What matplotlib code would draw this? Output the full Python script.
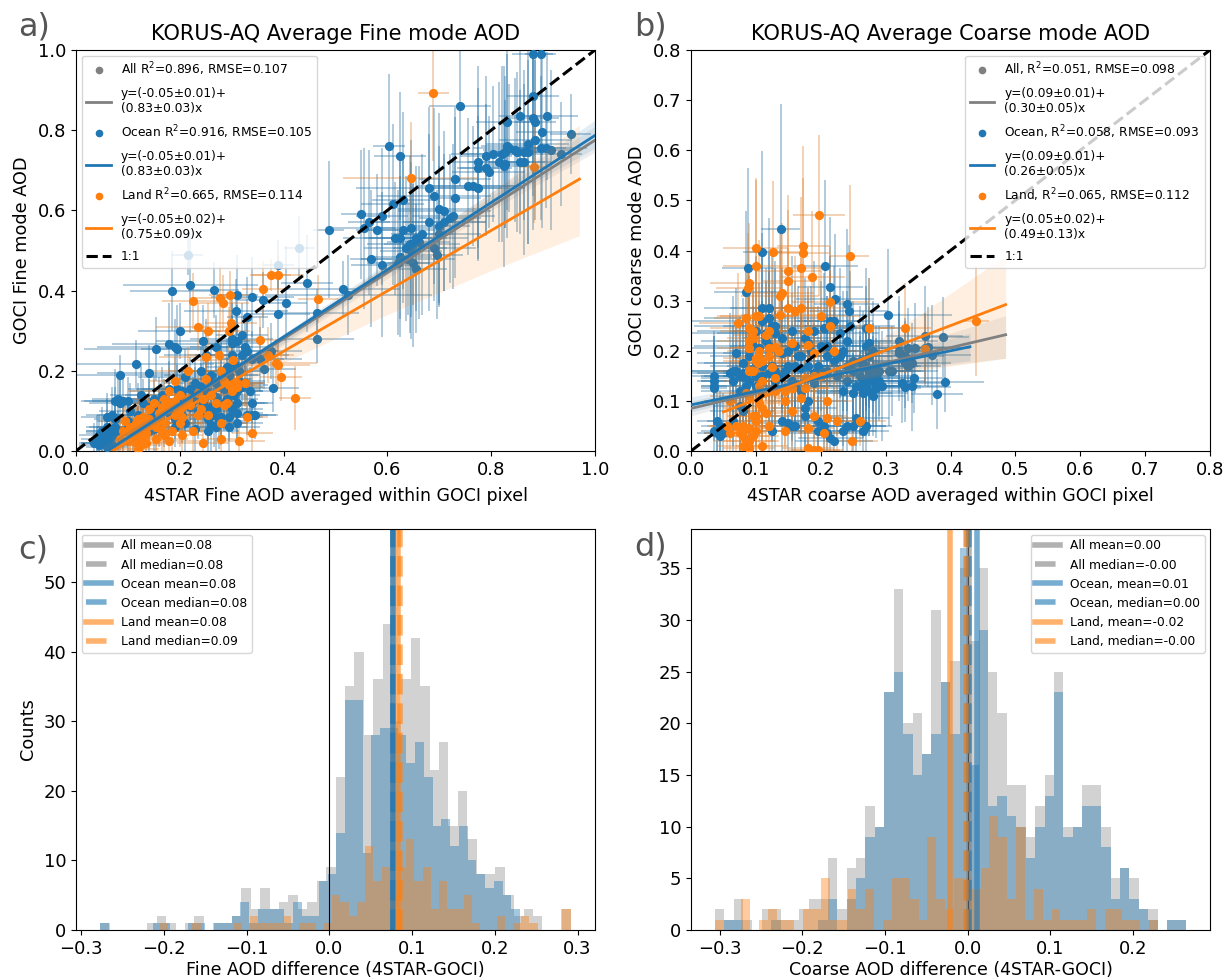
import numpy as np
import matplotlib
matplotlib.use("Agg")
import matplotlib.pyplot as plt

# rows are x, y, x error, y error
fine_ocean = [
(.88,.99,.04,.3),(.895,.99,.03,.3),(.74,.86,.06,.2),(.88,.885,.05,.25),(.83,.82,.06,.22),(.855,.835,.04,.24),
(.88,.83,.05,.28),(.885,.82,.04,.2),(.908,.835,.06,.16),(.953,.79,.04,.1),(.897,.795,.05,.24),(.885,.775,.07,.2),
(.87,.765,.08,.25),(.845,.75,.06,.18),(.83,.76,.05,.23),(.835,.755,.07,.16),(.82,.74,.08,.22),(.827,.745,.04,.19),
(.79,.735,.05,.2),(.803,.74,.08,.17),(.775,.72,.06,.24),(.79,.705,.05,.16),(.775,.705,.04,.2),(.795,.695,.07,.14),
(.815,.72,.06,.2),(.827,.715,.04,.16),(.825,.71,.05,.25),(.855,.72,.06,.18),(.863,.72,.04,.23),(.85,.745,.05,.2),
(.863,.745,.06,.17),(.87,.745,.04,.23),(.895,.755,.05,.18),(.905,.755,.08,.15),(.915,.75,.04,.2),(.935,.74,.04,.13),
(.603,.76,.03,.18),(.625,.735,.05,.16),(.73,.678,.07,.18),(.73,.632,.05,.2),(.755,.66,.1,.17),(.765,.66,.08,.15),
(.775,.655,.09,.18),(.68,.657,.14,.2),(.69,.636,.11,.22),(.7,.603,.08,.24),(.71,.598,.09,.2),(.72,.58,.06,.16),
(.727,.585,.08,.18),(.68,.57,.11,.22),(.7,.56,.06,.2),(.71,.57,.08,.17),(.666,.54,.06,.2),(.655,.53,.1,.18),
(.643,.515,.05,.22),(.7,.54,.08,.17),(.645,.555,.06,.22),(.63,.55,.08,.18),(.615,.53,.1,.14),(.625,.53,.06,.2),
(.635,.505,.08,.18),(.645,.5,.06,.22),(.65,.515,.09,.15),(.66,.52,.06,.19),(.69,.505,.08,.13),(.695,.49,.05,.16),
(.625,.485,.06,.2),(.64,.48,.09,.14),(.62,.47,.06,.18),(.65,.47,.05,.21),(.655,.455,.06,.16),(.59,.465,.06,.18),
(.568,.48,.04,.17),(.55,.59,.04,.16),(.555,.555,.06,.2),(.565,.57,.04,.18),(.59,.585,.05,.17),(.61,.615,.06,.2),
(.63,.625,.06,.22),(.487,.552,.03,.17),(.58,.552,.04,.14),(.215,.49,.03,.05),(.43,.505,.03,.08),(.39,.465,.03,.06),
(.445,.418,.05,.12),(.515,.404,.11,.07),(.525,.39,.16,.1),(.405,.37,.04,.14),(.39,.342,.06,.1),(.465,.345,.08,.06),
(.465,.28,.07,.06),(.34,.384,.08,.1),(.36,.376,.05,.07),(.31,.39,.04,.1),(.185,.4,.08,.1),(.22,.415,.13,.12),
(.265,.402,.05,.07),(.308,.348,.1,.08),(.33,.335,.04,.1),(.2,.3,.08,.07),(.155,.255,.14,.08),(.18,.268,.11,.1),
(.19,.26,.15,.07),(.195,.255,.07,.11),(.245,.275,.09,.09),(.115,.217,.15,.06),(.085,.19,.13,.05),(.14,.195,.1,.07),
(.3,.28,.08,.11),(.31,.275,.04,.09),(.32,.29,.05,.08),(.3,.27,.06,.1),(.33,.25,.06,.08),(.325,.26,.05,.07),
(.375,.25,.06,.07),(.32,.24,.09,.06),(.3,.24,.05,.1),(.34,.23,.06,.07),(.355,.23,.08,.08),(.363,.205,.06,.05),
(.38,.158,.05,.06),(.34,.12,.04,.05),(.345,.09,.04,.06),(.34,.09,.05,.04),(.25,.24,.08,.09),(.27,.26,.05,.08),
(.28,.2,.08,.08),(.29,.21,.04,.07),(.295,.19,.06,.06),(.305,.22,.06,.07),(.315,.2,.05,.08),(.28,.18,.06,.09),
(.26,.19,.09,.07),(.24,.2,.06,.06),(.255,.18,.08,.08),(.27,.17,.05,.05),(.29,.165,.08,.07),(.3,.17,.06,.06),
(.31,.15,.05,.08),(.325,.17,.04,.05),(.335,.15,.04,.06),(.22,.155,.09,.08),(.205,.15,.1,.06),(.23,.14,.06,.07),
(.25,.15,.05,.08),(.27,.135,.06,.06),(.285,.12,.08,.07),(.3,.105,.06,.06),(.31,.095,.05,.08),(.295,.085,.06,.06),
(.28,.085,.08,.07),(.265,.09,.05,.08),(.255,.08,.06,.06),(.26,.065,.04,.07),(.27,.06,.06,.06),(.25,.1,.09,.06),
(.235,.1,.06,.07),(.22,.11,.05,.06),(.205,.09,.08,.07),(.19,.11,.06,.06),(.18,.095,.05,.07),(.17,.12,.08,.06),
(.16,.105,.06,.08),(.15,.09,.09,.06),(.14,.11,.06,.07),(.13,.12,.06,.06),(.12,.09,.08,.08),(.105,.1,.06,.07),
(.09,.125,.08,.06),(.075,.125,.06,.08),(.08,.13,.05,.06),(.07,.09,.05,.07),(.075,.08,.04,.08),(.06,.085,.05,.06),
(.06,.06,.04,.07),(.05,.05,.03,.06),(.045,.04,.04,.05),(.04,.03,.03,.06),(.035,.02,.03,.05),(.05,.02,.04,.04),
(.065,.03,.04,.06),(.07,.05,.05,.05),(.08,.04,.04,.06),(.09,.05,.05,.07),(.1,.06,.06,.06),(.11,.04,.05,.06),
(.13,.06,.06,.05),(.15,.055,.06,.06),(.17,.07,.06,.06),(.19,.06,.08,.05),(.21,.07,.06,.07),(.23,.055,.08,.06),
(.255,.05,.06,.05),(.275,.075,.05,.07),(.2,.13,.09,.06),(.18,.155,.08,.07),(.21,.185,.09,.07),(.23,.17,.06,.06),
(.3,.15,.06,.06),(.305,.14,.05,.05),(.29,.13,.06,.06),(.32,.16,.04,.06),(.315,.175,.05,.07),(.285,.155,.07,.06),
(.27,.115,.06,.05),(.26,.11,.05,.07),(.245,.12,.07,.05),(.225,.125,.06,.06),(.21,.12,.07,.07),(.24,.16,.08,.06),
(.27,.105,.06,.06),(.28,.07,.05,.05),(.295,.06,.06,.06),(.31,.07,.05,.05),(.33,.09,.04,.05),(.31,.12,.06,.06),
(.04,.02,.03,.04),(.045,.015,.04,.04),(.055,.03,.03,.05),(.06,.01,.04,.04),(.07,.015,.04,.05),(.06,.045,.04,.05),
(.075,.06,.05,.06),(.1,.075,.06,.05),(.12,.05,.06,.06),(.14,.05,.05,.05),(.16,.07,.07,.06),(.19,.08,.06,.05),
(.195,.155,.08,.06),(.165,.14,.07,.07),(.15,.13,.08,.06),(.125,.14,.06,.08),(.1,.125,.07,.06),(.085,.12,.06,.06),
]
fine_land = [
(.688,.893,.03,.17),(.645,.68,.13,.14),(.883,.708,.03,.14),(.39,.44,.05,.05),(.375,.44,.04,.04),(.36,.405,.04,.07),
(.467,.378,.04,.06),(.225,.375,.06,.07),(.277,.382,.05,.08),(.283,.37,.05,.07),(.297,.39,.04,.06),(.298,.318,.05,.08),
(.235,.31,.08,.06),(.255,.3,.06,.07),(.295,.3,.04,.06),(.355,.277,.05,.06),(.25,.235,.09,.07),(.275,.24,.06,.06),
(.302,.228,.08,.06),(.37,.24,.05,.07),(.385,.22,.08,.06),(.215,.2,.07,.06),(.28,.2,.06,.06),(.395,.185,.04,.06),
(.422,.132,.03,.08),(.25,.18,.06,.06),(.285,.175,.05,.05),(.295,.165,.06,.06),(.31,.17,.05,.06),(.325,.17,.04,.06),
(.19,.175,.05,.06),(.2,.14,.06,.05),(.215,.13,.06,.07),(.18,.15,.08,.06),(.17,.13,.06,.05),(.19,.125,.06,.06),
(.22,.115,.05,.05),(.235,.145,.05,.06),(.26,.14,.06,.05),(.255,.09,.05,.06),(.24,.105,.06,.06),(.285,.115,.05,.06),
(.165,.11,.05,.05),(.15,.12,.06,.06),(.14,.105,.05,.05),(.13,.085,.06,.06),(.115,.07,.05,.05),(.125,.06,.06,.06),
(.14,.08,.05,.05),(.155,.06,.06,.06),(.17,.07,.04,.05),(.19,.09,.05,.05),(.205,.085,.06,.05),(.2,.07,.04,.06),
(.185,.05,.05,.05),(.17,.04,.04,.06),(.155,.03,.06,.05),(.135,.045,.05,.06),(.12,.035,.05,.05),(.115,.02,.05,.04),
(.125,.015,.04,.05),(.09,.05,.04,.06),(.085,.03,.05,.05),(.105,.06,.04,.06),(.095,.075,.05,.05),(.18,.025,.06,.05),
(.205,.04,.04,.06),(.225,.05,.05,.06),(.245,.02,.05,.05),(.28,.03,.04,.05),(.315,.025,.05,.05),(.34,.045,.04,.05),
(.33,.085,.04,.06),(.28,.07,.05,.05),(.29,.12,.05,.06),(.39,.215,.06,.06),(.13,.07,.05,.05),(.14,.065,.04,.06),
(.125,.05,.04,.05),(.12,.08,.05,.06),(.115,.055,.04,.05),(.11,.03,.05,.05),(.13,.035,.05,.04),(.135,.02,.04,.04),
(.12,.005,.04,.04),(.15,.07,.05,.05),(.16,.095,.05,.06),(.175,.105,.05,.05),(.18,.12,.06,.05),(.19,.11,.05,.06),
(.2,.105,.05,.05),(.21,.12,.06,.06),(.235,.09,.05,.05),(.245,.13,.05,.06),(.27,.12,.05,.05),(.3,.15,.05,.06),
(.305,.165,.04,.05),(.31,.16,.05,.06),(.165,.05,.04,.05),(.16,.08,.05,.05),(.105,.045,.04,.05),(.1,.025,.04,.04),
]
coarse_ocean = [
(.035,.15,.02,.08),(.035,.14,.02,.09),(.035,.13,.02,.11),(.035,.125,.02,.09),(.035,.04,.02,.08),(.04,.035,.02,.07),
(.045,.03,.02,.08),(.04,.06,.03,.07),(.138,.442,.03,.25),(.11,.398,.03,.2),(.088,.365,.04,.2),(.085,.318,.05,.16),
(.207,.37,.05,.17),(.215,.327,.05,.14),(.222,.303,.06,.13),(.24,.293,.05,.15),(.243,.28,.06,.13),(.303,.272,.1,.13),
(.245,.25,.07,.11),(.27,.245,.06,.12),(.32,.22,.06,.09),(.36,.23,.06,.1),(.388,.228,.04,.08),(.275,.215,.06,.13),
(.335,.205,.07,.08),(.345,.205,.06,.09),(.36,.205,.07,.07),(.365,.208,.05,.08),(.372,.192,.06,.1),(.32,.195,.06,.08),
(.32,.2,.05,.1),(.33,.19,.06,.07),(.33,.175,.05,.09),(.34,.175,.06,.08),(.335,.17,.05,.07),(.31,.16,.07,.09),
(.305,.16,.05,.11),(.392,.138,.06,.06),(.343,.145,.05,.07),(.325,.135,.06,.08),(.33,.128,.07,.07),(.34,.13,.05,.09),
(.379,.113,.04,.07),(.07,.195,.06,.13),(.065,.16,.07,.15),(.06,.155,.06,.12),(.065,.14,.05,.11),(.075,.12,.06,.14),
(.08,.175,.07,.13),(.09,.19,.06,.16),(.095,.16,.06,.13),(.085,.145,.07,.12),(.1,.24,.09,.15),(.11,.26,.11,.14),
(.12,.285,.06,.18),(.115,.235,.12,.13),(.12,.21,.06,.15),(.13,.25,.08,.13),(.14,.225,.06,.14),(.14,.195,.09,.12),
(.125,.17,.07,.15),(.11,.15,.06,.13),(.1,.13,.07,.12),(.13,.14,.06,.14),(.145,.16,.07,.13),(.155,.24,.09,.15),
(.16,.21,.06,.13),(.165,.19,.07,.14),(.155,.14,.06,.12),(.17,.165,.09,.13),(.175,.225,.06,.12),(.185,.2,.07,.13),
(.19,.24,.06,.14),(.195,.17,.09,.12),(.2,.21,.06,.13),(.205,.245,.07,.11),(.21,.19,.06,.12),(.215,.26,.05,.13),
(.22,.26,.06,.11),(.23,.235,.06,.13),(.235,.2,.07,.12),(.24,.17,.06,.09),(.225,.15,.07,.12),(.21,.16,.06,.11),
(.25,.18,.07,.12),(.26,.15,.06,.09),(.265,.17,.09,.11),(.27,.21,.06,.12),(.275,.19,.07,.09),(.275,.16,.06,.13),
(.28,.165,.05,.09),(.27,.14,.07,.11),(.255,.13,.06,.12),(.24,.14,.06,.09),(.235,.12,.05,.11),(.25,.115,.06,.08),
(.265,.115,.07,.09),(.28,.11,.05,.08),(.275,.12,.06,.09),(.29,.14,.06,.08),(.295,.13,.06,.11),(.17,.12,.06,.12),
(.16,.13,.06,.09),(.19,.135,.06,.11),(.18,.1,.06,.09),(.175,.085,.05,.08),(.175,.07,.06,.09),(.195,.06,.06,.07),
(.205,.05,.06,.08),(.195,.04,.05,.07),(.21,.035,.06,.07),(.215,.025,.05,.07),(.22,.02,.06,.05),(.235,.04,.05,.07),
(.24,.05,.06,.07),(.25,.05,.05,.08),(.265,.04,.04,.08),(.27,.05,.04,.07),(.255,.065,.05,.07),(.125,.04,.05,.07),
(.14,.06,.05,.08),(.15,.055,.06,.07),(.155,.05,.05,.08),(.16,.05,.05,.07),(.065,.06,.04,.1),(.075,.09,.04,.09),
(.08,.08,.05,.08),(.045,.05,.03,.07),(.05,.035,.04,.08),
(.11,.285,.09,.15),(.12,.265,.1,.13),(.125,.25,.12,.14),(.13,.235,.09,.13),(.115,.22,.1,.12),(.105,.205,.11,.13),
(.095,.21,.09,.12),(.1,.175,.08,.11),(.11,.17,.08,.13),(.12,.155,.07,.11),(.13,.16,.08,.12),(.14,.15,.09,.1),
(.15,.17,.08,.13),(.15,.2,.09,.11),(.16,.17,.08,.12),(.17,.19,.07,.1),(.18,.17,.09,.13),(.18,.215,.07,.11),
(.19,.155,.08,.1),(.2,.16,.08,.11),(.21,.21,.08,.1),(.22,.18,.07,.11),(.23,.19,.08,.12),(.24,.22,.07,.1),
(.25,.16,.09,.11),(.26,.13,.08,.1),(.27,.17,.08,.09),(.26,.18,.07,.11),(.28,.14,.08,.09),(.285,.125,.07,.1),
(.27,.13,.08,.08),(.275,.145,.07,.09),(.285,.15,.06,.1),(.29,.16,.07,.09),(.28,.2,.08,.1),(.265,.14,.06,.1),
(.07,.16,.07,.1),(.075,.15,.08,.12),(.08,.155,.07,.11),(.085,.13,.07,.12),(.09,.14,.08,.1),(.1,.15,.08,.11),
]
coarse_land = [
(.197,.47,.04,.16),(.245,.39,.03,.14),(.1,.405,.05,.14),(.127,.398,.04,.14),(.172,.408,.04,.2),(.173,.395,.04,.15),
(.1,.37,.05,.17),(.17,.366,.04,.14),(.15,.36,.05,.15),(.187,.348,.05,.13),(.09,.335,.06,.12),(.088,.325,.05,.11),
(.15,.34,.04,.14),(.14,.315,.05,.14),(.137,.31,.06,.14),(.215,.298,.06,.11),(.15,.285,.06,.12),(.17,.285,.07,.1),
(.16,.28,.05,.11),(.073,.255,.06,.1),(.137,.272,.06,.13),(.1,.27,.06,.11),(.105,.27,.06,.15),(.085,.265,.05,.11),
(.2,.27,.06,.1),(.44,.26,.02,.11),(.33,.245,.04,.09),(.274,.245,.04,.1),(.215,.25,.05,.11),(.09,.245,.06,.12),
(.095,.24,.05,.1),(.12,.24,.06,.12),(.18,.24,.06,.09),(.115,.232,.05,.1),(.09,.22,.05,.11),(.095,.225,.04,.09),
(.155,.215,.06,.1),(.12,.205,.06,.09),(.18,.212,.05,.1),(.13,.208,.06,.08),(.135,.2,.05,.11),(.19,.195,.05,.09),
(.09,.205,.05,.09),(.22,.2,.04,.09),(.1,.185,.05,.08),(.105,.185,.04,.1),(.11,.18,.05,.09),(.103,.175,.04,.08),
(.12,.19,.06,.1),(.36,.203,.04,.07),(.125,.168,.05,.09),(.09,.16,.05,.09),(.095,.16,.04,.08),(.11,.14,.06,.09),
(.13,.145,.05,.08),(.175,.145,.05,.09),(.19,.15,.06,.08),(.2,.15,.05,.08),(.175,.125,.04,.09),(.155,.125,.06,.08),
(.145,.12,.05,.07),(.085,.115,.05,.08),(.09,.11,.06,.08),(.145,.1,.05,.09),(.17,.105,.04,.08),(.21,.1,.04,.07),
(.06,.1,.04,.08),(.105,.095,.05,.08),(.11,.085,.06,.07),(.115,.075,.05,.07),(.155,.08,.04,.07),(.095,.07,.04,.08),
(.1,.07,.04,.07),(.12,.05,.05,.06),(.19,.07,.05,.07),(.21,.065,.04,.07),(.225,.06,.04,.07),(.26,.06,.04,.05),
(.18,.045,.04,.06),(.205,.035,.04,.06),(.145,.04,.05,.07),(.06,.035,.04,.06),(.08,.03,.04,.06),(.085,.02,.05,.06),
(.08,.01,.04,.04),(.09,.005,.04,.04),(.1,.04,.04,.06),(.11,.01,.04,.05),(.18,.005,.04,.03),(.19,.002,.04,.03),
(.195,.002,.04,.03),(.248,.02,.04,.04),(.07,.05,.04,.06),(.055,.05,.03,.06),
(.105,.2,.05,.1),(.1,.18,.05,.09),(.11,.115,.05,.08),(.105,.13,.04,.07),(.13,.12,.05,.08),(.1,.06,.04,.06),
(.09,.045,.04,.06),(.095,.03,.04,.05),(.075,.035,.04,.05),(.08,.05,.04,.06),(.09,.02,.04,.05),(.085,.045,.03,.06),
]

# fit lines (two ends) and their bands
fine_all_line = ([.03, 1.0], [-.025, .775])
fine_ocean_line = ([.03, 1.0], [-.025, .787])
fine_land_line = ([.07, .97], [.0, .678])
fine_band_x = [.03, .2, .4, .6, .8, 1.0]
fine_all_lo = [-.045, .105, .265, .43, .6, .745]
fine_all_hi = [-.005, .125, .285, .465, .635, .81]
fine_ocean_lo = [-.045, .108, .27, .44, .61, .755]
fine_ocean_hi = [-.005, .128, .292, .47, .645, .825]
fine_land_x = [.07, .2, .4, .6, .8, .97]
fine_land_lo = [-.03, .085, .22, .34, .45, .537]
fine_land_hi = [.03, .115, .285, .465, .645, .813]

coarse_all_line = ([.0, .485], [.085, .232])
coarse_ocean_line = ([.0, .43], [.092, .208])
coarse_land_line = ([.05, .485], [.078, .292])
coarse_band_x = [.0, .1, .2, .3, .4, .485]
coarse_all_lo = [.07, .105, .135, .155, .172, .185]
coarse_all_hi = [.1, .125, .16, .195, .235, .27]
coarse_ocean_x = [.0, .1, .2, .3, .43]
coarse_ocean_lo = [.078, .11, .14, .16, .18]
coarse_ocean_hi = [.108, .13, .16, .19, .235]
coarse_land_x = [.05, .15, .25, .35, .485]
coarse_land_lo = [.055, .105, .14, .16, .185]
coarse_land_hi = [.1, .14, .19, .27, .39]

# histogram counts per bin
c_all = [1,0,0,0,0,1,2,1,0,1,2,0,1,1,2,6,3,6,3,4,5,3,4,7,9,22,35,40,28,36,44,30,36,42,35,23,27,15,20,13,8,8,9,5,2,3,2,0,0,3]
c_ocean = [1,0,0,0,0,0,1,1,0,0,1,1,0,1,1,2,4,1,3,3,3,1,4,2,2,7,8,14,33,33,11,28,29,29,28,24,27,22,15,16,12,15,10,8,6,7,5,3]
c_land = [1,0,0,0,1,0,0,0,0,1,0,2,1,1,1,2,0,1,1,0,1,5,4,2,4,12,7,9,5,9,13,7,9,3,7,3,3,5,1,0,0,2,0,1,2,1,0,0,0,3]
d_all = [2,1,3,1,0,2,2,1,1,2,3,3,7,2,6,7,12,10,23,33,20,21,17,31,24,26,35,28,35,25,21,14,14,9,12,15,25,10,10,14,14,10,5,6,5,2,2,0,1,1]
d_ocean = [0,1,1,0,0,0,1,0,0,0,0,1,3,0,3,5,9,10,23,25,19,15,17,19,24,19,37,16,29,12,13,11,10,7,10,13,23,9,10,12,12,8,3,6,3,2,1,0,1,1]
d_land = [1,0,0,3,0,1,2,1,1,0,2,2,5,1,1,4,2,4,0,1,5,5,3,1,9,3,2,5,5,4,6,11,9,3,10,1,4,1,2,1,1,1,2,0,2,2,1,1,0,1]

c_stats = [.0765, .077, .0765, .077, .083, .086]
d_stats = [.002, -.001, .011, .002, -.022, -.002]
c_labels = ["All mean=0.08", "All median=0.08", "Ocean mean=0.08", "Ocean median=0.08", "Land mean=0.08", "Land median=0.09"]
d_labels = ["All mean=0.00", "All median=-0.00", "Ocean, mean=0.01", "Ocean, median=0.00", "Land, mean=-0.02", "Land, median=-0.00"]

W, H = 1223, 980
fig = plt.figure(figsize=(W / 100, H / 100), dpi=100)


def box(x0, y0, x1, y1):
    return [x0 / W, 1 - y1 / H, (x1 - x0) / W, (y1 - y0) / H]


def scatter_panel(ax, ocean, land, lines, bands, labels, lim):
    ocean = np.array(ocean)
    land = np.array(land)
    both = np.vstack([ocean, land])
    ax.errorbar(both[:, 0], both[:, 1], xerr=both[:, 2], yerr=both[:, 3], fmt='none', ecolor='grey', alpha=0.12, elinewidth=1.4)
    ax.errorbar(ocean[:, 0], ocean[:, 1], xerr=ocean[:, 2], yerr=ocean[:, 3], fmt='none', ecolor='C0', alpha=0.3, elinewidth=1.4)
    ax.errorbar(land[:, 0], land[:, 1], xerr=land[:, 2], yerr=land[:, 3], fmt='none', ecolor='C1', alpha=0.3, elinewidth=1.2)
    ax.plot(ocean[:, 0], ocean[:, 1], 'o', color='C0', ms=5.6, zorder=3)
    ax.plot(land[:, 0], land[:, 1], 'o', color='C1', ms=5.6, zorder=3)
    h = []
    for k, (col, name) in enumerate(zip(['grey', 'C0', 'C1'], ['all', 'ocean', 'land'])):
        bx, lo, hi = bands[k]
        ax.fill_between(bx, lo, hi, color=col, alpha=0.13 if k < 2 else 0.12, lw=0, zorder=4)
        pt, = ax.plot([], [], 'o', color=col, ms=4.5)
        ln, = ax.plot(lines[k][0], lines[k][1], '-', color=col, lw=2.0, zorder=5)
        h += [pt, ln]
    one, = ax.plot([0, lim], [0, lim], 'k--', lw=2.2, zorder=6)
    h.append(one)
    ax.set_xlim(0, lim)
    ax.set_ylim(0, lim)
    ax.tick_params(labelsize=13)
    return h, labels + ['1:1']


a_labels = ['All R$^2$=0.896, RMSE=0.107', 'y=(-0.05±0.01)+\n(0.83±0.03)x', 'Ocean R$^2$=0.916, RMSE=0.105',
            'y=(-0.05±0.01)+\n(0.83±0.03)x', 'Land R$^2$=0.665, RMSE=0.114', 'y=(-0.05±0.02)+\n(0.75±0.09)x']
b_labels = ['All, R$^2$=0.051, RMSE=0.098', 'y=(0.09±0.01)+\n(0.30±0.05)x', 'Ocean, R$^2$=0.058, RMSE=0.093',
            'y=(0.09±0.01)+\n(0.26±0.05)x', 'Land, R$^2$=0.065, RMSE=0.112', 'y=(0.05±0.02)+\n(0.49±0.13)x']

ax_a = fig.add_axes(box(76, 50, 595, 451))
h, lab = scatter_panel(ax_a, fine_ocean, fine_land,
                       [fine_all_line, fine_ocean_line, fine_land_line],
                       [(fine_band_x, fine_all_lo, fine_all_hi), (fine_band_x, fine_ocean_lo, fine_ocean_hi),
                        (fine_land_x, fine_land_lo, fine_land_hi)], a_labels, 1.0)
leg = ax_a.legend(h, lab, loc='upper left', fontsize=8.8, framealpha=0.8, labelspacing=0.72, borderaxespad=0.45)
leg.set_zorder(10)
ax_a.set_xticks(np.arange(0, 1.01, .2))
ax_a.set_yticks(np.arange(0, 1.01, .2))
ax_a.set_title('KORUS-AQ Average Fine mode AOD', fontsize=15, pad=7)
ax_a.set_xlabel('4STAR Fine AOD averaged within GOCI pixel', fontsize=12.5, labelpad=6)
ax_a.set_ylabel('GOCI Fine mode AOD', fontsize=12.7, labelpad=5)

ax_b = fig.add_axes(box(691, 50, 1210, 451))
h, lab = scatter_panel(ax_b, coarse_ocean, coarse_land,
                       [coarse_all_line, coarse_ocean_line, coarse_land_line],
                       [(coarse_band_x, coarse_all_lo, coarse_all_hi), (coarse_ocean_x, coarse_ocean_lo, coarse_ocean_hi),
                        (coarse_land_x, coarse_land_lo, coarse_land_hi)], b_labels, 0.8)
leg = ax_b.legend(h, lab, loc='upper right', fontsize=8.8, framealpha=0.8, labelspacing=0.72, borderaxespad=0.45)
leg.set_zorder(10)
ax_b.set_xticks(np.arange(0, .81, .1))
ax_b.set_yticks(np.arange(0, .81, .1))
ax_b.set_title('KORUS-AQ Average Coarse mode AOD', fontsize=15, pad=7)
ax_b.set_xlabel('4STAR coarse AOD averaged within GOCI pixel', fontsize=12.5, labelpad=6)
ax_b.set_ylabel('GOCI coarse mode AOD', fontsize=12.7, labelpad=5)


def hist_panel(ax, counts, edges, stats, labels):
    for vals, e, col, al in zip(counts, edges, ['grey', 'C0', 'C1'], [.35, .4, .4]):
        ax.stairs(vals, e, fill=True, color=col, alpha=al, lw=0)
    ax.axvline(0, color='k', lw=0.8)
    cols = ['grey', 'grey', 'C0', 'C0', 'C1', 'C1']
    for k, v in enumerate(stats):
        ax.axvline(v, color=cols[k], lw=4, alpha=0.6, ls='-' if k % 2 == 0 else '--', label=labels[k])
    ax.tick_params(labelsize=13)


ax_c = fig.add_axes(box(76, 529, 595, 930))
hist_panel(ax_c, [c_all, c_ocean, c_land],
           [np.linspace(-.2765, .2915, 51), np.linspace(-.2765, .2305, 49), np.linspace(-.205, .2915, 51)],
           c_stats, c_labels)
ax_c.set_xlim(-.306, .321)
ax_c.set_ylim(0, 57.6)
ax_c.legend(loc='upper left', fontsize=8.8, framealpha=0.8, labelspacing=0.5, borderaxespad=0.45)
ax_c.set_xlabel('Fine AOD difference (4STAR-GOCI)', fontsize=12.5, labelpad=2.5)
ax_c.set_ylabel('Counts', fontsize=12.7, labelpad=5)

ax_d = fig.add_axes(box(691, 529, 1210, 930))
hist_panel(ax_d, [d_all, d_ocean, d_land],
           [np.linspace(-.306, .264, 51), np.linspace(-.306, .264, 51), np.linspace(-.306, .23, 51)],
           d_stats, d_labels)
ax_d.set_xlim(-.3346, .293)
ax_d.set_ylim(0, 38.8)
ax_d.legend(loc='upper right', fontsize=8.8, framealpha=0.8, labelspacing=0.5, borderaxespad=0.45)
ax_d.set_xlabel('Coarse AOD difference (4STAR-GOCI)', fontsize=12.5, labelpad=2.5)

for name, x, y in [('a)', 18, 36), ('b)', 634, 36), ('c)', 18, 558), ('d)', 634, 555)]:
    fig.text(x / W, 1 - y / H, name, fontsize=23, color='#555555', ha='left', va='baseline')

fig.savefig('out.png', dpi=100)
